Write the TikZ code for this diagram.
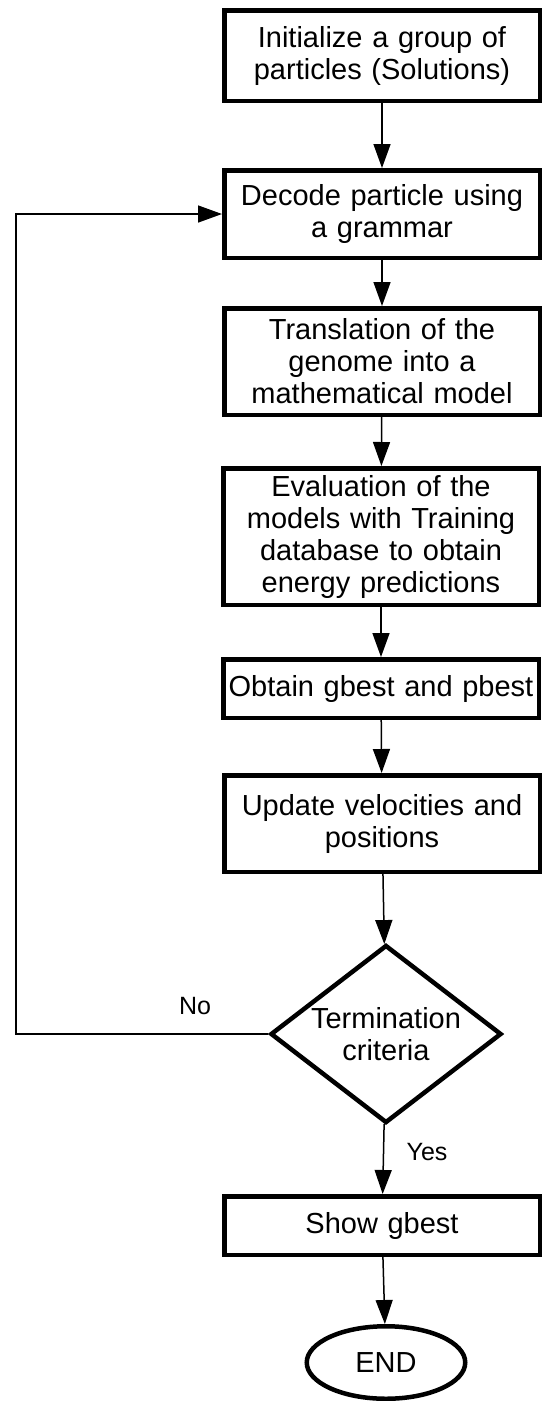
\documentclass[tikz,border=0pt]{standalone}
\usepackage{fontspec}
\setmainfont{Liberation Sans}
\usetikzlibrary{shapes.geometric, arrows.meta}

\tikzset{
    stepbox/.style={draw, line width=4.5pt, minimum width=315.5pt, text width=310pt,
        inner sep=0pt, align=center, font=\fontsize{29}{32}\selectfont},
    link/.style={line width=1.5pt, -{Triangle[length=24pt, width=17pt]}},
    lbl/.style={font=\fontsize{25}{28}\selectfont}
}

\begin{document}
\begin{tikzpicture}[x=1pt, y=-1pt]
    \useasboundingbox (0,0) rectangle (544,1401);

    \node[stepbox, minimum height=90.5pt] at (382,55.5)   (Init)   {Initialize a group of\\particles (Solutions)};
    \node[stepbox, minimum height=87.5pt] at (382,214)    (Decode) {Decode particle using\\a grammar};
    \node[stepbox, minimum height=106.5pt] at (382,361.5) (Transl) {Translation of the\\genome into a\\mathematical model};
    \node[stepbox, minimum height=136.5pt] at (381,536.5) (Eval)   {Evaluation of the\\models with Training\\database to obtain\\energy predictions};
    \node[stepbox, minimum height=58.5pt] at (381,688.5)  (Best)   {Obtain gbest and pbest};
    \node[stepbox, minimum height=96.5pt] at (382,823.5)  (Update) {Update velocities and\\positions};
    \node[draw, diamond, line width=4.5pt, aspect=1.29, minimum width=231pt, minimum height=178pt,
        inner sep=0pt, align=center, font=\fontsize{29}{32}\selectfont] at (386,1034) (Term) {Termination\\criteria};
    \node[stepbox, minimum height=58.5pt] at (382,1225.5) (Show)   {Show gbest};
    \node[draw, ellipse, line width=4.5pt, minimum width=158.5pt, minimum height=72.5pt,
        inner sep=0pt, font=\fontsize{29}{32}\selectfont] at (386,1362.5) (End) {END};

    \coordinate (Back) at (16,1034);
    \node[lbl] at (195,1006) (No)  {No};
    \node[lbl] at (427,1152) (Yes) {Yes};

    \draw[link] (Init) -- (Decode);
    \draw[link] (Decode) -- (Transl);
    \draw[link] (Transl) -- (Eval);
    \draw[link] (Eval) -- (Best);
    \draw[link] (Best) -- (Update);
    \draw[link] (Update) -- (Term);
    \draw[link] (Term) -- (Show);
    \draw[link] (Show) -- (End);
    \draw[link] (Term.west) -- (Back) |- (Decode.west);
\end{tikzpicture}
\end{document}
